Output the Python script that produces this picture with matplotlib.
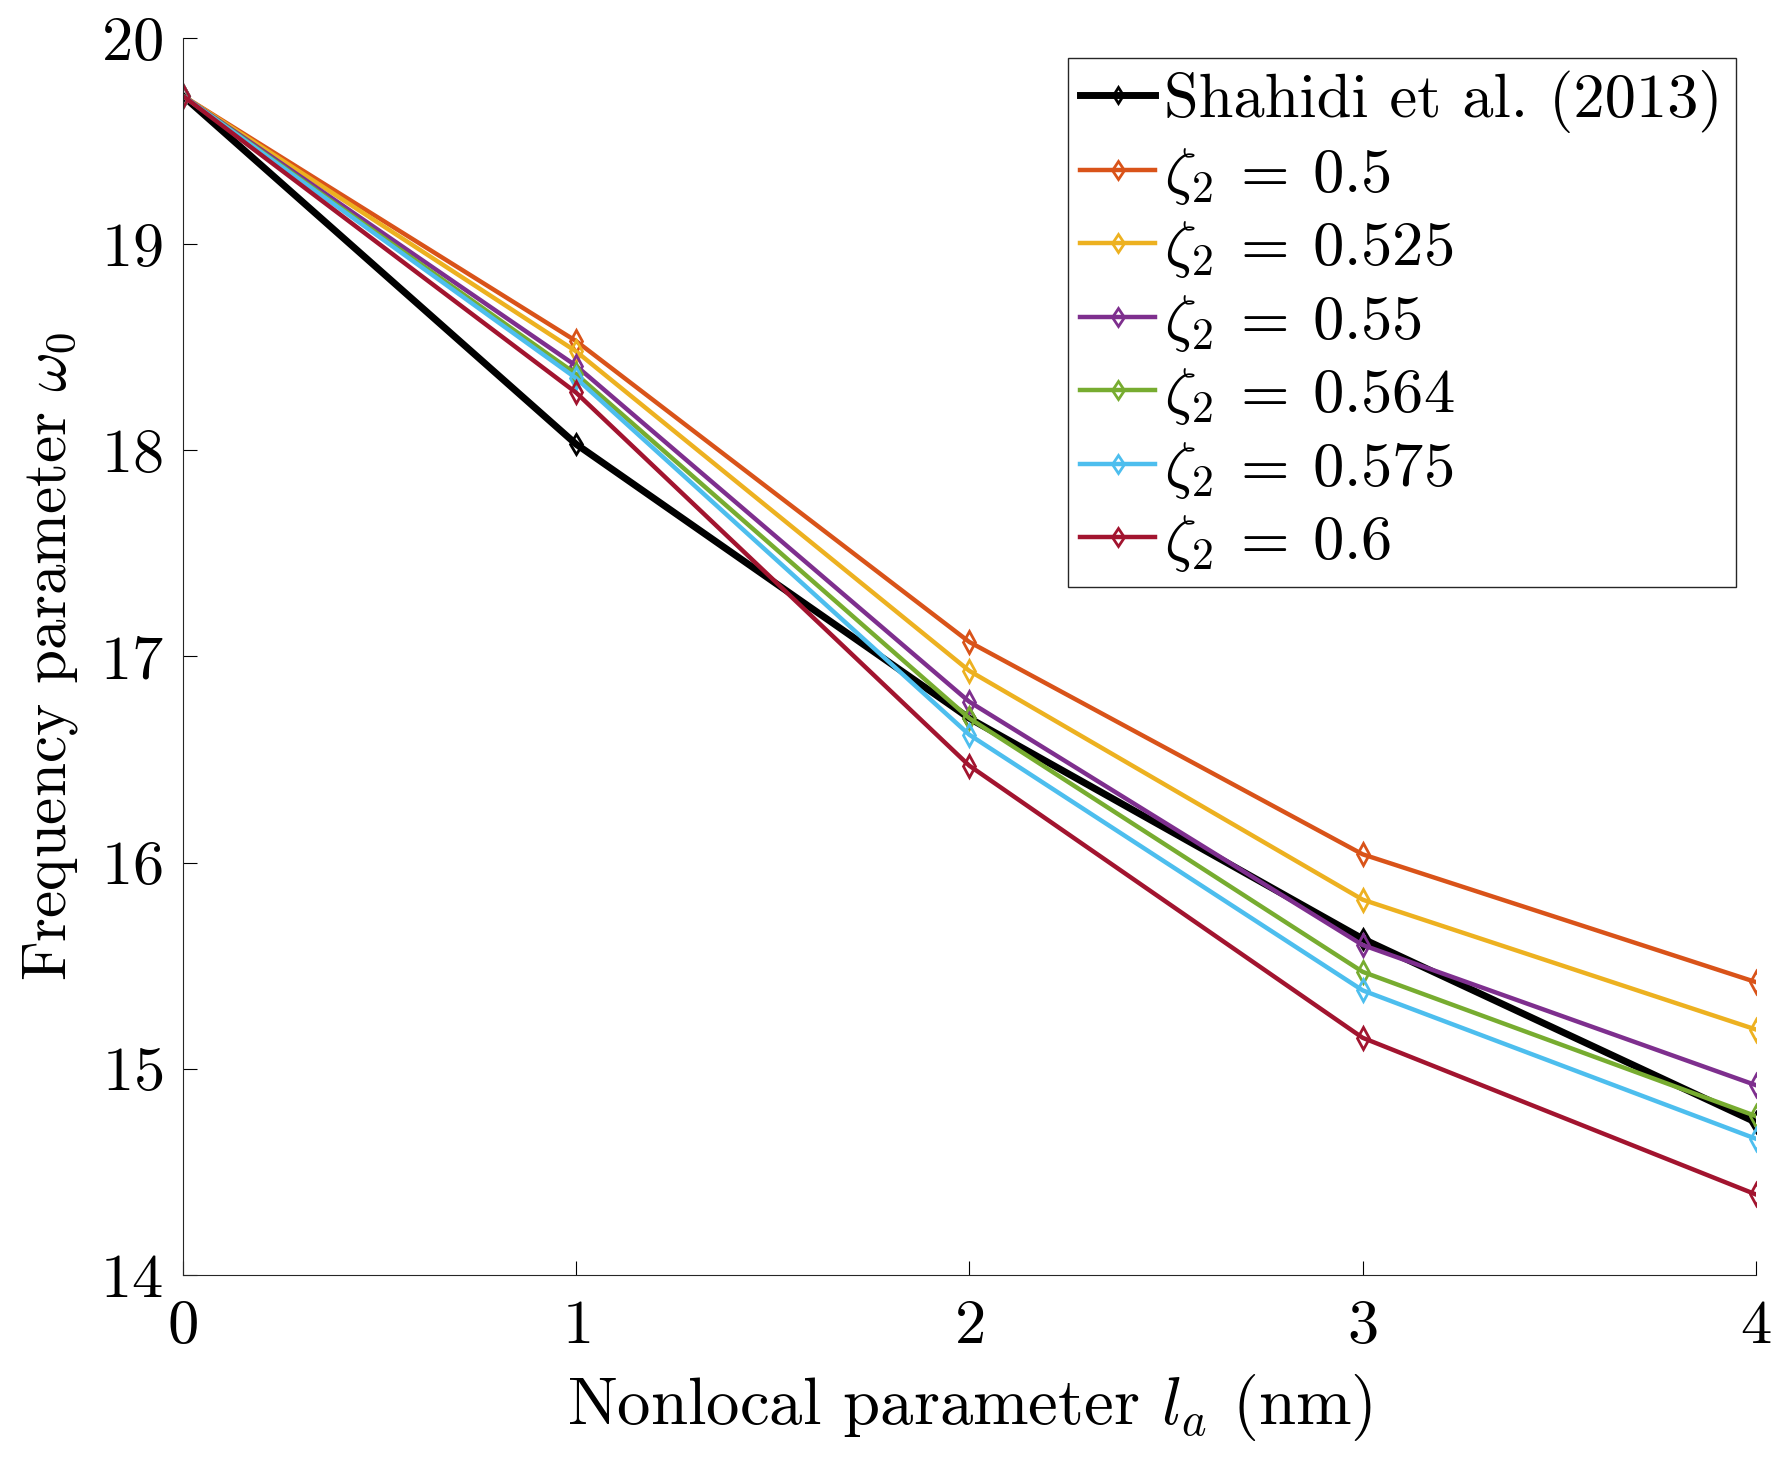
import numpy as np
import matplotlib
matplotlib.use('Agg')
import matplotlib.pyplot as plt

# ---------------------------------------------------------
# data
# ---------------------------------------------------------
la = [0, 1, 2, 3, 4]

shahidi = [19.72, 18.03, 16.70, 15.63, 14.74]
z_050 = [19.72, 18.53, 17.07, 16.04, 15.42]
z_0525 = [19.72, 18.48, 16.93, 15.82, 15.19]
z_055 = [19.72, 18.41, 16.78, 15.60, 14.92]
z_0564 = [19.72, 18.37, 16.70, 15.47, 14.77]
z_0575 = [19.72, 18.35, 16.62, 15.38, 14.66]
z_060 = [19.72, 18.28, 16.47, 15.15, 14.39]

zeta_labels = ['0.5', '0.525', '0.55', '0.564', '0.575', '0.6']
zeta_series = [z_050, z_0525, z_055, z_0564, z_0575, z_060]
colors = [(0.850, 0.325, 0.098), (0.929, 0.694, 0.125), (0.494, 0.184, 0.556),
          (0.466, 0.674, 0.188), (0.301, 0.745, 0.933), (0.635, 0.078, 0.184)]

# ---------------------------------------------------------
# style: latex-ish look
# ---------------------------------------------------------
plt.rcParams['font.family'] = 'serif'
plt.rcParams['font.serif'] = ['cmr10', 'DejaVu Serif']
plt.rcParams['mathtext.fontset'] = 'cm'
plt.rcParams['axes.formatter.use_mathtext'] = True

fig = plt.figure(figsize=(17.9, 14.57), dpi=100)
ax = fig.add_axes([0.102, 0.125, 0.879, 0.849])

ax.plot(la, shahidi, color='black', lw=5, marker='d', ms=10, mfc='none', mew=2,
        label='Shahidi et al. (2013)')
for vals, lab, c in zip(zeta_series, zeta_labels, colors):
    ax.plot(la, vals, color=c, lw=3.2, marker='d', ms=11, mfc='none', mew=2,
            label=r'$\zeta_2\:=\:%s$' % lab)

ax.set_xlim(0, 4)
ax.set_ylim(14, 20)
ax.set_xticks([0, 1, 2, 3, 4])
ax.set_yticks([14, 15, 16, 17, 18, 19, 20])
ax.tick_params(direction='in', length=10, width=0.8, labelsize=45)
ax.tick_params(axis='x', pad=18)
ax.tick_params(axis='y', pad=14)
ax.spines['top'].set_visible(False)
ax.spines['right'].set_visible(False)
for s in ['left', 'bottom']:
    ax.spines[s].set_linewidth(0.8)
    ax.spines[s].set_color('#262626')

ax.set_xlabel(r'Nonlocal parameter $l_a$ (nm)', fontsize=48, labelpad=12)
ax.set_ylabel(r'Frequency parameter $\omega_0$', fontsize=44, labelpad=14)

leg = ax.legend(loc='upper right', bbox_to_anchor=(0.987, 0.984), borderaxespad=0,
                fontsize=45, handlelength=1.2, handletextpad=0.15, labelspacing=0.2,
                borderpad=0.2, markerscale=0.85, fancybox=False, framealpha=1,
                edgecolor='#262626')
leg.get_frame().set_linewidth(1.0)

fig.savefig('out.png', dpi=100)
